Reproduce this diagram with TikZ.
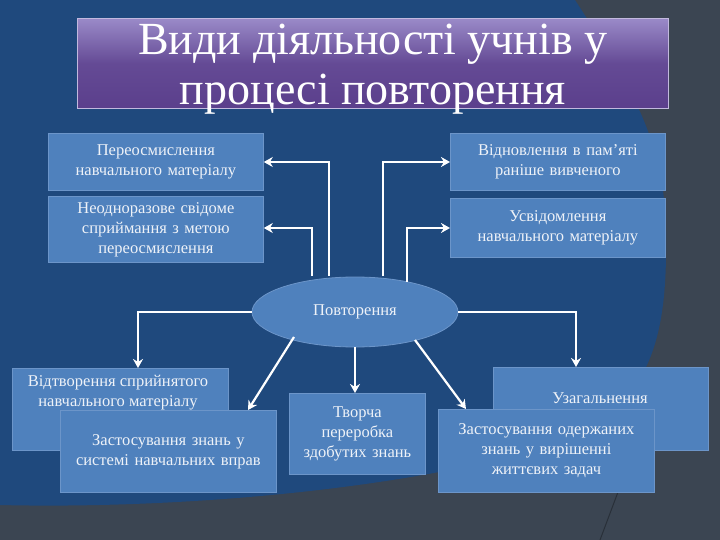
\documentclass[tikz,border=0pt]{standalone}
\usepackage{fontspec}
\setmainfont{Liberation Serif}
\usetikzlibrary{shapes.geometric,arrows.meta}
\definecolor{bgblue}{HTML}{1F497D}
\definecolor{bggrey}{HTML}{3B4552}
\definecolor{boxblue}{HTML}{4F81BD}
\definecolor{boxline}{HTML}{6C95C9}
\definecolor{txt}{HTML}{EEF2F8}
\definecolor{ptop}{HTML}{9A8AC8}
\definecolor{pbot}{HTML}{5B3F8C}
\tikzset{
  bx/.style={draw=boxline, line width=0.8pt, fill=boxblue, text=txt, align=center, inner sep=1pt,
    font=\fontsize{16.5}{20}\selectfont, anchor=north west},
  lbl/.style={text=txt, align=center, font=\fontsize{16.5}{20}\selectfont, inner sep=0pt},
  arr/.style={draw=white, line width=2.2pt, -{Stealth[length=9pt,width=10pt]}},
}
\begin{document}
\begin{tikzpicture}[x=1pt,y=-1pt]
\useasboundingbox (0,0) rectangle (720,540);
\fill[bggrey] (0,0) rectangle (720,540);
\fill[bgblue] (0,0) -- (575,0) .. controls (640,100) and (668,150) .. (666,250)
  .. controls (666,390) and (620,440) .. (460,468) .. controls (300,500) and (120,508) .. (0,505) -- cycle;
\draw[bggrey!70!black, line width=1pt] (660,380) -- (600,540);
% title
\node[draw=ptop!60!white, line width=0.8pt, top color=ptop, bottom color=pbot, middle color=pbot!85!ptop,
  minimum width=591pt, minimum height=90pt, anchor=north west, inner sep=0pt] (T) at (77,18) {};
\node[text=white, align=center, font=\fontsize{46}{50}\selectfont] (Tt) at ([yshift=-6pt]T.center) {Види діяльності учнів у\\процесі повторення};
% boxes
\node[bx, minimum width=215pt, minimum height=57pt, text width=213pt] (b1) at (48,133) {Переосмислення\\навчального матеріалу};
\node[bx, minimum width=215pt, minimum height=66pt, text width=213pt] (b2) at (48,196) {Неодноразове свідоме\\сприймання з метою\\переосмислення};
\node[bx, minimum width=215pt, minimum height=57pt, text width=213pt] (b3) at (450,133) {Відновлення в пам'яті\\раніше вивченого};
\node[bx, minimum width=215pt, minimum height=59pt, text width=213pt] (b4) at (450,198) {Усвідомлення\\навчального матеріалу};
\node[ellipse, draw=boxline, line width=0.8pt, fill=boxblue, text=txt, minimum width=206pt, minimum height=70pt,
  font=\fontsize{16.5}{20}\selectfont] (P) at (355,312) {Повторення};
\node[bx, minimum width=216pt, minimum height=82pt] (b5) at (12,368) {};
\node[lbl] (t5) at (118,393) {Відтворення сприйнятого\\навчального матеріалу};
\node[bx, minimum width=216pt, minimum height=82pt, text width=214pt] (b6) at (60,410) {Застосування знань у\\системі навчальних вправ};
\node[bx, minimum width=136pt, minimum height=81pt, text width=134pt] (b7) at (289,393) {Творча\\переробка\\здобутих знань};
\node[bx, minimum width=215pt, minimum height=83pt] (b8) at (493,367) {};
\node[lbl] (t8) at (600,398) {Узагальнення};
\node[bx, minimum width=216pt, minimum height=83pt, text width=214pt] (b9) at (438,409) {Застосування одержаних\\знань у вирішенні\\життєвих задач};
% connectors
\coordinate (c1) at (329,276);
\coordinate (c2) at (312,276);
\coordinate (c3) at (383,276);
\coordinate (c4) at (407,282);
\draw[arr] (c1) |- (b1.east |- 0,162);
\draw[arr] (c2) |- (b2.east |- 0,228);
\draw[arr] (c3) |- (b3.west |- 0,162);
\draw[arr] (c4) |- (b4.west |- 0,228);
\draw[arr] (P.west) -| (b5.north -| 138,0);
\draw[arr] (P.east) -| (b8.north -| 576,0);
\draw[arr] (P.south) -- (b7.north -| 355,0);
\coordinate (d1) at (294,337);
\coordinate (d2) at (415,340);
\draw[arr] (d1) -- (b6.north -| 248,0);
\draw[arr] (d2) -- (b9.north -| 466,0);
\end{tikzpicture}
\end{document}
